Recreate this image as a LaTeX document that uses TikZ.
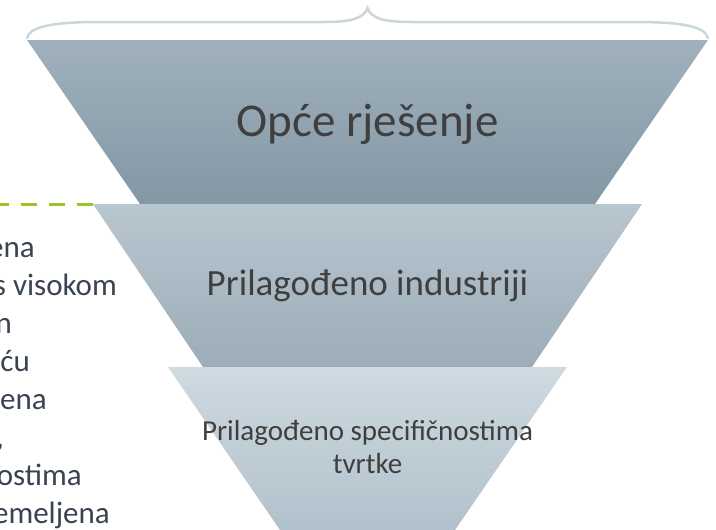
\documentclass[tikz,border=0pt]{standalone}
\usepackage{fontspec}
\setmainfont{Carlito}
\definecolor{tierAtop}{HTML}{A0B1BD}
\definecolor{tierAbot}{HTML}{8397A4}
\definecolor{tierBtop}{HTML}{B8C6CF}
\definecolor{tierBbot}{HTML}{9CADB9}
\definecolor{tierCtop}{HTML}{CFDAE1}
\definecolor{tierCbot}{HTML}{B1C1CB}
\definecolor{braceline}{HTML}{CAD6DE}
\definecolor{dashgreen}{HTML}{9DC41E}
\definecolor{labeltext}{HTML}{3F3F3F}
\definecolor{sidetext}{HTML}{3A4352}
\tikzset{
  tierlabel/.style={anchor=base, inner sep=0pt, text=labeltext, align=center},
  sidelabel/.style={anchor=base east, inner sep=0pt, text=sidetext, font=\fontsize{31}{36}\selectfont}
}

\begin{document}
\begin{tikzpicture}[x=1pt, y=-1pt]
\useasboundingbox (0,0) rectangle (716,530);

\shade[top color=tierAtop, bottom color=tierAbot] (27,40) -- (708,40) -- (595,204) -- (140,204) -- cycle;
\shade[top color=tierBtop, bottom color=tierBbot] (93,204) -- (642,204) -- (532,367) -- (203,367) -- cycle;
\shade[top color=tierCtop, bottom color=tierCbot] (168,367) -- (567,367) -- (455,530) -- (280,530) -- cycle;

\draw[braceline, line width=2.5pt, line cap=round]
  (27,38) .. controls (30,25) and (60,22) .. (100,22) -- (325,22)
  .. controls (352,22) and (364,18) .. (367.5,8)
  .. controls (371,18) and (383,22) .. (410,22) -- (635,22)
  .. controls (675,22) and (705,25) .. (708,38);

\node[tierlabel, font=\fontsize{47}{56}\selectfont] (general) at (367.5,136) {Opće rješenje};
\node[tierlabel, font=\fontsize{37}{44}\selectfont] (industry) at (367.5,295) {Prilagođeno industriji};
\node[tierlabel, font=\fontsize{29}{33}\selectfont] (company) at (367.5,473) {Prilagođeno specifičnostima\\tvrtke};

\coordinate (dashstart) at (93,204);
\coordinate (dashend) at (0,204);
\draw[dashgreen, line width=3pt, dash pattern=on 16pt off 12pt] (dashstart) -- (dashend);

\foreach \txt/\xr/\yb [count=\k] in {ena/35/257, s visokom/117/295, n/12/333, ću/30/371, ena/47/409, {,}/4/447, ostima/82/485, emeljena/110/523}
  \node[sidelabel] (side\k) at (\xr,\yb) {\txt};
\end{tikzpicture}
\end{document}
